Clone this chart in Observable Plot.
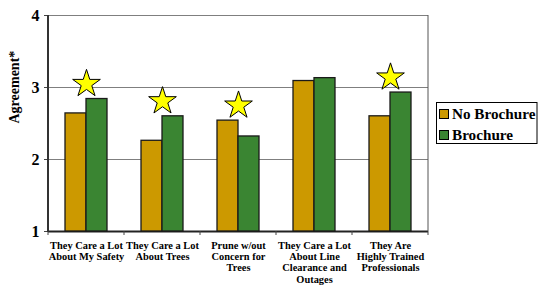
<!DOCTYPE html>
<html>
<head>
<meta charset="utf-8">
<script src="https://cdn.jsdelivr.net/npm/d3@7"></script>
<script src="https://cdn.jsdelivr.net/npm/@observablehq/plot@0.6"></script>
<style>
  html, body { margin: 0; padding: 0; background: #fff; }
  #chart svg { display: block; }
</style>
</head>
<body>
<div id="chart"></div>
<script>
// ---- data ----
const categories = [
  "They Care a Lot\nAbout My Safety",
  "They Care a Lot\nAbout Trees",
  "Prune w/out\nConcern for\nTrees",
  "They Care a Lot\nAbout Line\nClearance and\nOutages",
  "They Are\nHighly Trained\nProfessionals"
];
const series = ["No Brochure", "Brochure"];
const noBrochure = [2.64, 2.26, 2.54, 3.09, 2.60];
const brochure = [2.84, 2.60, 2.32, 3.13, 2.93];
const significant = [true, true, true, false, true];
const yTicks = [1, 2, 3, 4];
const gridValues = [2, 3, 4];
const yLabel = "Agreement*";

// ---- tables built from the arrays ----
const data = categories.flatMap((c, i) => [
  {category: c, series: series[0], value: noBrochure[i]},
  {category: c, series: series[1], value: brochure[i]}
]);
const stars = categories
  .map((c, i) => ({category: c, top: Math.max(noBrochure[i], brochure[i]), sig: significant[i]}))
  .filter(d => d.sig);

const W = 538, H = 286;
const FONT = "Liberation Serif";

const chart = Plot.plot({
  width: W,
  height: H,
  marginLeft: 48,
  marginRight: 110,
  marginTop: 15,
  marginBottom: 55,
  style: {fontFamily: FONT, fontWeight: "bold", background: "white", overflow: "visible"},
  fx: {domain: categories, padding: 0, axis: null, label: null},
  x: {domain: series, paddingInner: 0, paddingOuter: 0.77, axis: null, label: null},
  y: {domain: [1, 4], axis: null, label: null},
  color: {domain: series, range: ["#CC9900", "#3A8532"]},
  marks: [
    Plot.ruleY(gridValues, {stroke: "#7f7f7f", strokeWidth: 1}),
    Plot.ruleY([1], {stroke: "#222", strokeWidth: 2}),
    Plot.barY(data, {
      fx: "category", x: "series", y1: 1, y2: "value",
      fill: "series", stroke: "#1a1a1a", strokeWidth: 1.3
    }),
    Plot.dot(stars, {
      fx: "category", y: d => d.top + 0.21,
      symbol: "star", r: 8.7, fill: "#FFFF00", stroke: "#000", strokeWidth: 1
    }),
    Plot.axisY({
      ticks: yTicks, tickFormat: d3.format("d"), tickSize: 4, tickPadding: 5,
      fontSize: 16, fontWeight: "bold", label: null, stroke: "#444"
    }),
    Plot.text([{category: categories[0]}], {
      fx: "category", text: () => yLabel, frameAnchor: "left",
      rotate: -90, dx: -34, fontSize: 14, fontWeight: "bold", fill: "#000"
    }),
    Plot.axisFx({
      anchor: "bottom", tickSize: 0, tickPadding: 9, fontSize: 10.4,
      fontWeight: "bold", lineHeight: 1.09, label: null
    })
  ]
});

document.getElementById("chart").appendChild(chart);

// ---- frame lines, boundary ticks and legend from the library's scales ----
const svg = d3.select(chart);
const fx = chart.scale("fx");
const y = chart.scale("y");
const color = chart.scale("color");
const bw = fx.bandwidth;
const left = fx.apply(categories[0]);
const right = fx.apply(categories[categories.length - 1]) + bw;
const yb = y.apply(1), yt = y.apply(4);

// boundary ticks under the axis
svg.append("g").selectAll("line")
  .data(categories.map(c => fx.apply(c)).concat([right]))
  .join("line")
  .attr("x1", d => d).attr("x2", d => d)
  .attr("y1", yb).attr("y2", yb + 4)
  .attr("stroke", "#444").attr("stroke-width", 1);

// right border
svg.append("line")
  .attr("x1", right).attr("x2", right).attr("y1", yt).attr("y2", yb)
  .attr("stroke", "#555").attr("stroke-width", 1);
// left axis line
svg.append("line")
  .attr("x1", left).attr("x2", left).attr("y1", yt).attr("y2", yb + 1)
  .attr("stroke", "#333").attr("stroke-width", 2);

// legend
const lg = svg.append("g").attr("transform", `translate(${right + 8.5},102.5)`)
  .attr("text-anchor", "start");
lg.append("rect").attr("x", 0).attr("y", 0).attr("width", 100.5).attr("height", 41)
  .attr("fill", "white").attr("stroke", "#000").attr("stroke-width", 1);
color.domain.forEach((s, i) => {
  const row = lg.append("g").attr("transform", `translate(0,${i * 21})`);
  row.append("rect").attr("x", 3).attr("y", 7).attr("width", 9).attr("height", 9)
    .attr("fill", color.apply(s)).attr("stroke", "#000").attr("stroke-width", 1);
  row.append("text").attr("x", 15.5).attr("y", 16.5).attr("text-anchor", "start")
    .attr("font-family", FONT).attr("font-weight", "bold").attr("font-size", 15.2)
    .attr("fill", "#000").text(s);
});
</script>
</body>
</html>
